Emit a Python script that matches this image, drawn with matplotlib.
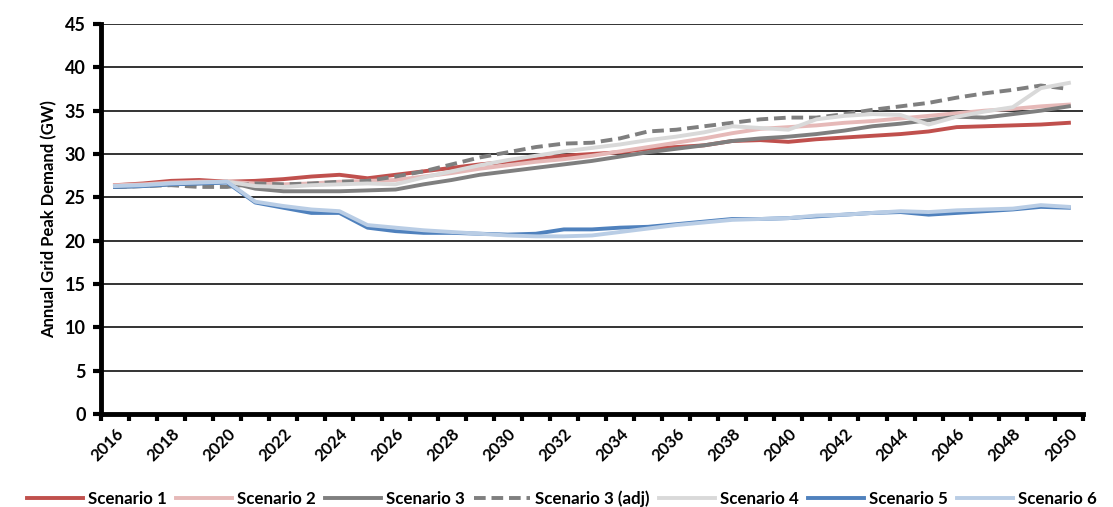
import numpy as np
import matplotlib.pyplot as plt

plt.rcParams['font.family'] = ['Lato', 'DejaVu Sans']

years = list(range(2016, 2051))

scenario_1 = [26.4, 26.6, 26.9, 27.0, 26.8, 26.9, 27.1, 27.4, 27.6, 27.2,
              27.6, 28.0, 28.4, 28.8, 29.1, 29.4, 29.8, 30.0, 30.2, 30.6,
              30.8, 31.0, 31.5, 31.6, 31.4, 31.7, 31.9, 32.1, 32.3, 32.6,
              33.1, 33.2, 33.3, 33.4, 33.6]
scenario_2 = [26.4, 26.5, 26.7, 26.8, 26.8, 26.6, 26.5, 26.6, 26.8, 26.9,
              27.0, 27.4, 27.8, 28.3, 28.7, 29.1, 29.4, 29.8, 30.3, 30.8,
              31.3, 31.8, 32.4, 32.9, 33.1, 33.3, 33.6, 33.8, 34.1, 34.4,
              34.7, 35.0, 35.2, 35.5, 35.7]
scenario_3 = [26.2, 26.3, 26.5, 26.6, 26.8, 26.0, 25.7, 25.7, 25.7, 25.8,
              25.9, 26.5, 27.0, 27.6, 28.0, 28.4, 28.8, 29.2, 29.7, 30.2,
              30.6, 31.0, 31.5, 31.8, 32.0, 32.3, 32.7, 33.2, 33.5, 33.9,
              34.3, 34.2, 34.6, 35.0, 35.5]
scenario_3_adj = [26.2, 26.3, 26.4, 26.2, 26.2, 26.6, 26.5, 26.6, 26.8, 26.9,
                  27.4, 28.0, 28.8, 29.6, 30.2, 30.8, 31.2, 31.3, 31.8, 32.6,
                  32.8, 33.2, 33.6, 34.0, 34.2, 34.2, 34.6, 35.1, 35.5, 35.9,
                  36.5, 37.0, 37.4, 37.9, 37.5]
scenario_4 = [26.3, 26.4, 26.6, 26.7, 26.8, 26.3, 26.2, 26.4, 26.5, 26.6,
              26.5, 27.3, 28.0, 28.7, 29.3, 29.8, 30.3, 30.7, 31.1, 31.6,
              32.0, 32.5, 33.2, 33.0, 32.8, 34.0, 34.4, 34.6, 34.5, 33.4,
              34.3, 34.9, 35.4, 37.6, 38.2]
scenario_5 = [26.2, 26.3, 26.5, 26.6, 26.7, 24.4, 23.8, 23.2, 23.2, 21.5,
              21.1, 20.9, 20.9, 20.8, 20.7, 20.8, 21.3, 21.3, 21.5, 21.6,
              21.9, 22.2, 22.5, 22.5, 22.6, 22.8, 23.0, 23.2, 23.3, 23.0,
              23.2, 23.4, 23.6, 23.9, 23.8]
scenario_6 = [26.3, 26.4, 26.6, 26.7, 26.8, 24.5, 24.0, 23.6, 23.4, 21.8,
              21.5, 21.2, 21.0, 20.8, 20.6, 20.5, 20.5, 20.6, 21.0, 21.4,
              21.8, 22.1, 22.4, 22.5, 22.6, 22.9, 23.0, 23.2, 23.4, 23.3,
              23.5, 23.6, 23.7, 24.1, 23.9]

series = [
    ("Scenario 1", scenario_1, "#C0504D", "-"),
    ("Scenario 2", scenario_2, "#E6B9B8", "-"),
    ("Scenario 3", scenario_3, "#7F7F7F", "-"),
    ("Scenario 3 (adj)", scenario_3_adj, "#7F7F7F", "--"),
    ("Scenario 4", scenario_4, "#D9D9D9", "-"),
    ("Scenario 5", scenario_5, "#4F81BD", "-"),
    ("Scenario 6", scenario_6, "#B9CDE5", "-"),
]

fig = plt.figure(figsize=(11.13, 5.07), dpi=100)
ax = fig.add_axes([0.0907, 0.1834, 0.8823, 0.7693])

for name, vals, color, ls in series:
    ax.plot(years, vals, color=color, linestyle=ls, linewidth=2.8,
            label=name, dashes=(3, 1.5) if ls == "--" else (None, None))

ax.set_ylim(0, 45)
ax.set_xlim(2015.5, 2050.5)
ax.set_yticks(np.arange(0, 46, 5))
ax.yaxis.grid(True, color="#333333", linewidth=1.4)
ax.set_axisbelow(True)

# tick marks between categories, labels on even years
ax.set_xticks(np.arange(2015.5, 2051, 1))
ax.set_xticklabels([])
ax.set_xticks(years[::2], minor=True)
ax.set_xticklabels([str(y) for y in years[::2]], minor=True, rotation=45,
                   ha="right", rotation_mode="anchor", fontsize=12,
                   fontweight="bold")
ax.tick_params(axis="x", which="major", length=5, width=3, direction="out")
ax.tick_params(axis="x", which="minor", length=0, pad=8)
ax.tick_params(axis="y", length=6, width=3, labelsize=13, pad=5)
for lbl in ax.get_yticklabels():
    lbl.set_fontweight("bold")

for side in ["top", "right"]:
    ax.spines[side].set_visible(False)
for side in ["left", "bottom"]:
    ax.spines[side].set_linewidth(3.5)

ax.set_ylabel("Annual Grid Peak Demand (GW)", fontsize=12, fontweight="bold",
              labelpad=5)

fig.legend(loc="lower center", bbox_to_anchor=(0.505, -0.03), ncol=7,
           frameon=False, handlelength=3.3, columnspacing=0.55,
           handletextpad=0.3, prop={"size": 12.2, "weight": "bold"})

plt.savefig("out.png", dpi=100)
plt.close()
